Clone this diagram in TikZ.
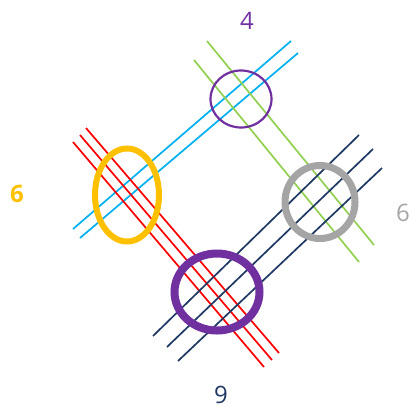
\documentclass[tikz,border=0pt]{standalone}
\usepackage{fontspec}
\setmainfont{Open Sans}
\definecolor{skyline}{HTML}{00B0F0}
\definecolor{leafline}{HTML}{92D050}
\definecolor{navyline}{HTML}{1F3864}
\definecolor{ringgold}{HTML}{FFC000}
\definecolor{ringgray}{HTML}{A5A5A5}
\definecolor{ringplum}{HTML}{7030A0}
\begin{document}
\begin{tikzpicture}[
    x=1pt, y=-1pt,
    font=\fontsize{24}{28}\selectfont,
    strand/.style={line width=1.7pt},
    count/.style={inner sep=0pt, anchor=center}
]
\useasboundingbox (0,0) rectangle (411,410);

% --- Lines ---
% Blue pair
\draw [strand, skyline] (73,229) -- (291,41);
\draw [strand, skyline] (80,238) -- (298,53);

% Green pair
\draw [strand, leafline] (207,41) -- (374,245);
\draw [strand, leafline] (194,60) -- (359,262);

% Red triple
\draw [strand, red] (86,128) -- (279,353);
\draw [strand, red] (80,135) -- (272,360);
\draw [strand, red] (73,142) -- (264,367);

% Navy triple
\draw [strand, navyline] (359,135) -- (153,336);
\draw [strand, navyline] (373,149) -- (167,347);
\draw [strand, navyline] (382,168) -- (178,361);

% --- Rings ---
\draw [ringplum, line width=2.2pt] (241,99) ellipse [x radius=30.5, y radius=28.5];
\draw [ringgold, line width=6pt] (127,195) ellipse [x radius=32, y radius=46.5];
\draw [ringgray, line width=7pt] (320,202) ellipse [x radius=35, y radius=36.5];
\draw [ringplum, line width=8pt] (217,292) ellipse [x radius=42.5, y radius=38.5];

% --- Labels ---
\node (top) at (247,21) [count, text=ringplum] {4};
\node (left) at (17,194) [count, text=ringgold] {\textbf{6}};
\node (right) at (403,213) [count, text=ringgray] {6};
\node (bottom) at (221,395) [count, text=navyline] {9};

\end{tikzpicture}
\end{document}
